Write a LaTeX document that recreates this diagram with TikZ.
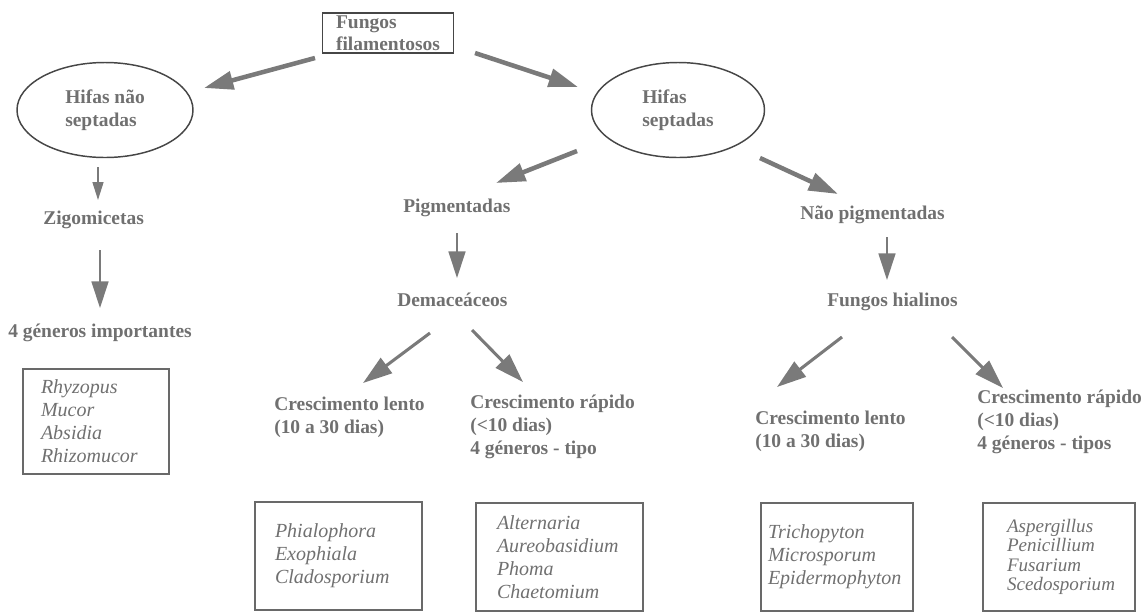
\documentclass[tikz,border=0pt]{standalone}
\usepackage{fontspec}
\setmainfont{Liberation Serif}
\usepackage{xcolor}
\usepackage{tikz}
\usetikzlibrary{calc,arrows.meta,shapes.geometric,positioning}
\definecolor{TxtGray}{RGB}{112,112,112}
\definecolor{ArrGray}{RGB}{122,122,122}
\definecolor{LineGray}{RGB}{70,70,70}
\definecolor{BoxGray}{RGB}{105,105,105}

\begin{document}
\begin{tikzpicture}[x=0.75pt, y=-0.75pt,
    lbl/.style={text=TxtGray, inner sep=0pt, anchor=west, align=left,
        font=\fontsize{14.6pt}{17.25pt}\selectfont\bfseries},
    hifa/.style={ellipse, draw=LineGray, line width=1.1pt, inner sep=0pt,
        minimum height=71.25pt, align=left, text=TxtGray,
        font=\fontsize{14.6pt}{17.25pt}\selectfont\bfseries},
    gbox/.style={draw=BoxGray, line width=2.2pt, inner ysep=0pt, align=left,
        minimum height=81pt, text=TxtGray,
        font=\fontsize{15pt}{17.25pt}\selectfont\itshape},
    bigarr/.style={draw=ArrGray, line width=3.4pt, -{Triangle[length=22pt,width=13.5pt]}},
    midarr/.style={draw=ArrGray, line width=2.3pt, -{Triangle[length=22pt,width=14pt]}},
    downarr/.style={draw=ArrGray, line width=1.2pt, -{Triangle[length=20pt,width=12.75pt]}},
    smallarr/.style={draw=ArrGray, line width=1.1pt, -{Triangle[length=13.5pt,width=8.25pt]}}]
    \useasboundingbox (0,0) rectangle (1143,612);

    % top of the tree
    \node[draw=LineGray, line width=1pt, minimum width=97.5pt, minimum height=30pt,
        inner xsep=10pt, inner ysep=0pt, align=left, text=TxtGray,
        font=\fontsize{14.6pt}{16.5pt}\selectfont\bfseries]
        (top) at (388,33) {Fungos\\filamentosos};
    \node[hifa, minimum width=132pt] (hns) at (105,110) {Hifas não\\septadas};
    \node[hifa, minimum width=129.75pt] (hs) at (678,110) {Hifas\\septadas};

    % left branch
    \node[lbl] (zig) at (43,220) {Zigomicetas};
    \node[lbl] (gen4) at (8,333) {4 géneros importantes};
    \node[gbox, text width=82.5pt, inner xsep=13.5pt, minimum height=78.75pt]
        (bxzig) at (96,421.5) {Rhyzopus\\Mucor\\Absidia\\Rhizomucor};

    % pigmentadas
    \node[lbl] (pig) at (403,208) {Pigmentadas};
    \node[lbl] (dem) at (397,300) {Demaceáceos};
    \node[lbl] (cl1) at (274,417.5) {Crescimento lento\\(10 a 30 dias)};
    \node[lbl] (cr1) at (470,427) {Crescimento rápido\\(<10 dias)\\4 géneros - tipo};
    \node[gbox, text width=95.25pt, inner xsep=15pt] (bxdl) at (338.5,556)
        {Phialophora\\Exophiala\\Cladosporium};
    \node[gbox, text width=93.75pt, inner xsep=15.75pt] (bxdr) at (559.5,557)
        {Alternaria\\Aureobasidium\\Phoma\\Chaetomium};

    % nao pigmentadas
    \node[lbl] (npig) at (800,215) {Não pigmentadas};
    \node[lbl] (hial) at (827,302) {Fungos hialinos};
    \node[lbl] (cl2) at (755,431) {Crescimento lento\\(10 a 30 dias)};
    \node[lbl] (cr2) at (977,422) {Crescimento rápido\\(<10 dias)\\4 géneros - tipos};
    \node[gbox, text width=103.5pt, inner xsep=5.25pt] (bxhl) at (837,557)
        {Trichopyton\\Microsporum\\Epidermophyton};
    \node[gbox, text width=78pt, inner xsep=18pt,
        font=\fontsize{14.3pt}{14.6pt}\selectfont\itshape] (bxhr) at (1059,557)
        {Aspergillus\\Penicillium\\Fusarium\\Scedosporium};

    % arrows
    \draw[bigarr] ($(top)+(-73,25)$) -- ($(hns)+(99,-22)$);
    \draw[bigarr] ($(top)+(87,20)$) -- ($(hs)+(-100,-23)$);
    \draw[smallarr] ($(hns)+(-7,57)$) -- ($(zig.west)+(55,-20)$);
    \draw[downarr] ($(zig.west)+(57,30)$) -- ($(gen4.west)+(92,-25)$);
    \draw[bigarr] ($(hs)+(-101,41)$) -- ($(pig.west)+(93,-25)$);
    \draw[downarr] ($(pig.west)+(54,25)$) -- ($(dem.west)+(60,-22)$);
    \draw[bigarr] ($(hs)+(82,48)$) -- ($(npig.west)+(38,-21)$);
    \draw[downarr] ($(npig.west)+(87,22)$) -- ($(hial.west)+(60,-22)$);
    \draw[midarr] ($(dem.west)+(33,33)$) -- ($(cl1.west)+(89,-34.5)$);
    \draw[midarr] ($(dem.west)+(75,30)$) -- ($(cr1.west)+(53,-45)$);
    \draw[midarr] ($(hial.west)+(15,35)$) -- ($(cl2.west)+(22,-44)$);
    \draw[midarr] ($(hial.west)+(125,35)$) -- ($(cr2.west)+(26,-34)$);
\end{tikzpicture}
\end{document}
